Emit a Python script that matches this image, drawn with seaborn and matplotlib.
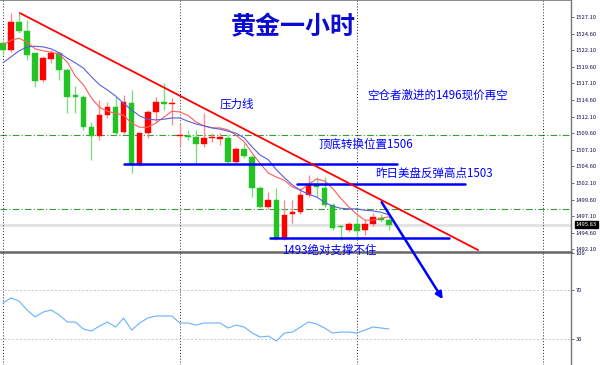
"""Gold 1-hour candlestick chart with annotations."""
import matplotlib

matplotlib.use("Agg")
import matplotlib.pyplot as plt
import matplotlib.transforms as mtransforms
import numpy as np
import pandas as pd
import seaborn as sns

sns.set_theme(style="white")
plt.rcParams["font.family"] = ["Noto Sans CJK SC", "DejaVu Sans"]

# hourly candles (red = up, green = down)
opens = [1523.2, 1522.1, 1526.4, 1525.0, 1521.7, 1517.6, 1520.8, 1521.7, 1519.1, 1515.2,
         1515.1, 1510.5, 1509.2, 1512.3, 1513.6, 1509.8, 1514.2, 1504.8, 1509.6, 1512.8,
         1514.3, 1514.0, 1509.2, 1509.1, 1509.0, 1508.0, 1508.9, 1508.8, 1508.9, 1505.3,
         1507.2, 1506.0, 1501.4, 1498.5, 1499.5, 1493.7, 1497.5, 1497.7, 1500.3, 1501.8,
         1501.4, 1498.8, 1495.5, 1495.0, 1495.9, 1495.0, 1495.9, 1496.8, 1496.5]
highs = [1523.6, 1527.7, 1527.7, 1526.7, 1521.7, 1521.2, 1522.1, 1521.8, 1519.4, 1516.7,
         1515.4, 1511.3, 1514.6, 1514.3, 1515.1, 1515.4, 1516.1, 1509.6, 1513.1, 1515.1,
         1517.2, 1514.9, 1511.1, 1510.1, 1510.1, 1512.6, 1509.6, 1509.6, 1509.3, 1507.5,
         1508.1, 1506.3, 1501.7, 1500.7, 1501.4, 1499.5, 1499.5, 1501.4, 1503.3, 1503.0,
         1503.0, 1499.1, 1495.8, 1496.2, 1497.3, 1496.5, 1497.6, 1497.4, 1497.3]
lows = [1521.4, 1521.8, 1524.7, 1520.6, 1516.6, 1517.3, 1520.2, 1517.6, 1512.6, 1512.6,
        1510.1, 1505.6, 1508.6, 1511.9, 1509.3, 1509.5, 1503.6, 1504.7, 1508.9, 1511.3,
        1513.1, 1510.8, 1507.5, 1508.6, 1505.1, 1507.5, 1508.3, 1507.8, 1505.1, 1505.0,
        1505.9, 1500.0, 1498.3, 1498.2, 1493.5, 1493.5, 1496.1, 1497.4, 1500.0, 1500.0,
        1498.5, 1495.0, 1493.5, 1494.7, 1493.5, 1494.3, 1495.6, 1496.2, 1495.0]
closes = [1522.1, 1526.4, 1525.0, 1521.4, 1517.5, 1520.9, 1521.7, 1519.1, 1515.1, 1515.1,
          1510.5, 1509.2, 1512.3, 1513.6, 1509.6, 1514.3, 1504.8, 1509.6, 1512.8, 1514.3,
          1514.0, 1514.0, 1509.2, 1509.0, 1508.0, 1508.9, 1508.9, 1508.9, 1505.3, 1507.2,
          1506.2, 1501.4, 1498.5, 1499.5, 1493.7, 1497.3, 1497.6, 1500.3, 1501.8, 1501.5,
          1498.8, 1495.3, 1495.4, 1495.9, 1494.9, 1495.9, 1497.0, 1496.5, 1495.8]

ma_fast = [1522.9, 1523.6, 1523.9, 1523.3, 1522.3, 1522.0, 1521.8, 1521.5, 1520.3, 1518.2,
           1516.9, 1514.9, 1513.5, 1512.9, 1512.6, 1512.3, 1511.1, 1510.5, 1510.5, 1511.1,
           1512.0, 1512.9, 1512.8, 1512.3, 1511.3, 1510.7, 1510.4, 1510.4, 1510.1, 1509.3,
           1508.3, 1506.6, 1505.0, 1503.6, 1503.0, 1502.5, 1501.5, 1501.0, 1501.9, 1502.7,
           1502.4, 1501.3, 1499.8, 1498.5, 1497.4, 1496.5, 1496.5, 1496.8, 1497.0]
ma_slow = [1520.2, 1521.1, 1522.0, 1522.6, 1522.7, 1522.6, 1522.3, 1521.7, 1520.9, 1520.2,
           1519.4, 1518.1, 1516.9, 1516.1, 1515.2, 1514.1, 1513.1, 1512.2, 1511.7, 1511.6,
           1511.7, 1511.9, 1511.9, 1511.4, 1511.0, 1510.7, 1510.4, 1510.2, 1509.9, 1509.6,
           1508.9, 1507.5, 1506.3, 1505.6, 1504.1, 1502.9, 1501.8, 1501.0, 1500.4, 1500.0,
           1499.2, 1498.6, 1498.3, 1498.2, 1498.2, 1498.0, 1497.9, 1497.7, 1497.3]

rsi = [59.4, 63.5, 61.0, 53.7, 48.0, 52.0, 53.7, 49.6, 43.9, 43.9,
       38.2, 36.5, 40.6, 43.9, 39.8, 47.1, 37.3, 43.1, 47.1, 48.8,
       48.8, 48.8, 43.1, 43.1, 41.4, 43.1, 43.1, 43.1, 39.0, 41.4,
       39.8, 34.9, 31.6, 32.4, 28.4, 34.9, 35.7, 39.8, 43.9, 42.3,
       39.0, 34.9, 35.7, 35.7, 34.9, 37.3, 39.8, 39.0, 38.2]

price_ticks = [1527.10, 1524.60, 1522.10, 1519.60, 1517.10, 1514.60, 1512.10, 1509.60,
               1507.10, 1504.60, 1502.10, 1499.60, 1497.10, 1494.60, 1492.10]
rsi_ticks = [30, 70, 100]
last_price = 1495.83
dash_levels = [1509.3, 1498.2]
session_marks = [0, 22, 44, 67.2]

# user drawn objects
levels = [1505.0, 1502.0, 1493.8]
level_spans = [(15.0, 49.0), (36.6, 57.5), (33.2, 55.5)]
trend_start = (2.1, 1527.7)
trend_end = (59.1, 1492.0)
arrow_start = (47.1, 1499.2)
arrow_end = (54.7, 1484.6)

title = "黄金一小时"
notes = ["压力线", "空仓者激进的1496现价再空", "顶底转换位置1506",
         "昨日美盘反弹高点1503", "1493绝对支撑不住"]
note_pos = [(27.0, 1513.9), (45.3, 1515.4), (39.2, 1508.0), (46.3, 1503.5), (34.7, 1492.0)]

frame = pd.DataFrame({"open": opens, "high": highs, "low": lows, "close": closes,
                      "ma_fast": ma_fast, "ma_slow": ma_slow, "rsi": rsi})
frame["idx"] = np.arange(len(frame))
up = frame["close"] >= frame["open"]

fig = plt.figure(figsize=(6, 3.65), dpi=100)
ax2 = fig.add_axes([0, 0.0, 0.9517, 0.3068])
ax = fig.add_axes([0, 0.3096, 0.9517, 0.6904])
# main panel on top so the arrow and the bottom note can run into the lower panel
ax.set_zorder(3)
ax.patch.set_alpha(0)
ax2.set_zorder(1)

# candles
wick_colors = np.where(up, "#ff8a8a", "#80dc80")
body_colors = np.where(up, "#ff0000", "#22c322")
ax.vlines(frame["idx"], frame["low"], frame["high"], colors=wick_colors, lw=1.0, zorder=3)
body_low = frame[["open", "close"]].min(axis=1)
body_h = (frame["close"] - frame["open"]).abs().clip(lower=0.18)
ax.bar(frame["idx"], body_h, bottom=body_low, width=0.7, color=body_colors,
       edgecolor=body_colors, lw=0.3, zorder=4)

sns.lineplot(data=frame, x="idx", y="ma_fast", ax=ax, color="#ff5c5c", lw=0.8, zorder=5)
sns.lineplot(data=frame, x="idx", y="ma_slow", ax=ax, color="#5c5cdc", lw=0.8, zorder=5)

# guide lines
ax.axhline(last_price, color="#e3e3e3", lw=2.2, zorder=1)
for lvl in dash_levels:
    ax.axhline(lvl, color="#3a9a3a", lw=0.8, ls=(0, (6, 2, 1, 2)), zorder=1)
for xm in session_marks:
    ax.axvline(xm, color="#222222", lw=0.7, ls=(0, (1, 2)), zorder=1)
    ax2.axvline(xm, color="#222222", lw=0.7, ls=(0, (1, 2)), zorder=1)

for lvl, (x0, x1) in zip(levels, level_spans):
    ax.plot([x0, x1], [lvl, lvl], color="#0000ff", lw=1.8, zorder=6)
ax.plot([trend_start[0], trend_end[0]], [trend_start[1], trend_end[1]],
        color="#ff0000", lw=1.3, zorder=6)
ax.annotate("", xy=arrow_end, xytext=arrow_start, annotation_clip=False,
            arrowprops=dict(arrowstyle="-|>", color="#0000ff", lw=1.8, mutation_scale=10,
                            shrinkA=0, shrinkB=0),
            zorder=7)

ax.text(36.1, 1525.6, title, ha="center", va="center", fontsize=18,
        fontweight="bold", color="#0a0ad2", zorder=8)
for txt, (xt, yt) in zip(notes, note_pos):
    ax.text(xt, yt, txt, ha="left", va="center", fontsize=8.3, color="#0000ff", zorder=8)

ax.set_xlim(-0.37, 70.65)
ax.set_ylim(1491.71, 1529.66)
ax2.set_xlim(-0.37, 70.65)
ax2.set_ylim(8.8, 100.2)

for a in (ax, ax2):
    a.set_xlabel("")
    a.set_ylabel("")
    a.set_xticks([])
    a.yaxis.tick_right()
    a.tick_params(axis="y", direction="out", length=2, width=0.5, pad=1.5,
                  labelsize=4.2, colors="#333333", labelcolor="#10104a")
    a.spines["left"].set_visible(False)
    a.spines["right"].set_color("#777777")
    a.spines["right"].set_linewidth(1.0)

ax.set_yticks(price_ticks)
ax.set_yticklabels([f"{t:.2f}" for t in price_ticks])
ax.spines["top"].set_color("#777777")
ax.spines["top"].set_linewidth(1.2)
ax.spines["bottom"].set_color("#666666")
ax.spines["bottom"].set_linewidth(1.8)

ax2.set_yticks(rsi_ticks)
ax2.set_yticklabels([str(t) for t in rsi_ticks])
ax2.spines["top"].set_visible(False)
ax2.spines["bottom"].set_visible(False)
for g in (30, 70):
    ax2.axhline(g, color="#c8c8c8", lw=0.7, ls=(0, (2, 2)), zorder=1)
sns.lineplot(data=frame, x="idx", y="rsi", ax=ax2, color="#66b2ff", lw=0.8, zorder=5)
ax2.set_xlabel("")
ax2.set_ylabel("")

# current price tag on the axis
tag = mtransforms.blended_transform_factory(ax.transAxes, ax.transData)
ax.text(1.008, last_price, f"{last_price:.2f}", transform=tag, ha="left", va="center",
        fontsize=4.2, color="white", zorder=9,
        bbox=dict(boxstyle="square,pad=0.15", fc="black", ec="black"))

fig.savefig("out.png", dpi=100)
plt.close(fig)
